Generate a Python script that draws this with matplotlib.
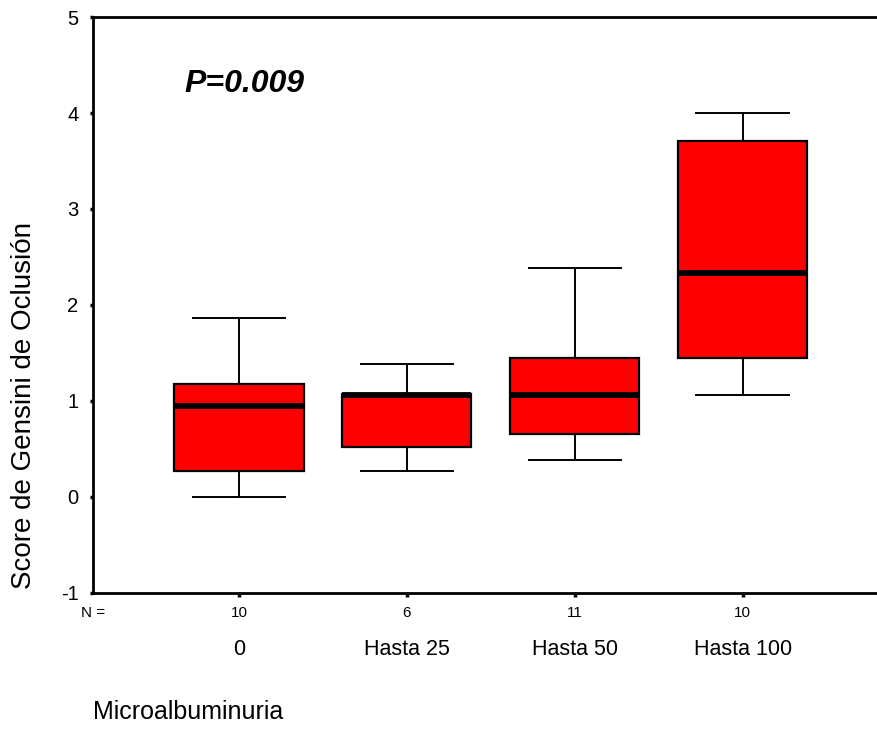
import matplotlib
matplotlib.use("Agg")
import matplotlib.pyplot as plt
import matplotlib.transforms as mtransforms

plt.rcParams['font.family'] = ['Liberation Sans', 'DejaVu Sans']
plt.rcParams['axes.unicode_minus'] = False

# Box plot values
groups = ['0', 'Hasta 25', 'Hasta 50', 'Hasta 100']
n_counts = [10, 6, 11, 10]
whisker_low = [0.0, 0.27, 0.39, 1.06]
q1 = [0.27, 0.52, 0.66, 1.45]
medians = [0.95, 1.06, 1.06, 2.33]
q3 = [1.18, 1.07, 1.45, 3.71]
whisker_high = [1.86, 1.39, 2.39, 4.0]

stats = []
for i in range(len(groups)):
    stats.append({'whislo': whisker_low[i], 'q1': q1[i], 'med': medians[i],
                  'q3': q3[i], 'whishi': whisker_high[i], 'fliers': [],
                  'label': groups[i]})

fig = plt.figure(figsize=(8.77, 7.3), dpi=100)
ax = fig.add_axes([0.106, 0.1877, 0.894, 0.789])

positions = list(range(1, len(groups) + 1))
ax.bxp(stats, positions=positions, widths=0.77, patch_artist=True,
       showfliers=False, capwidths=0.55,
       boxprops=dict(facecolor='#ff0000', edgecolor='black', linewidth=1.6),
       medianprops=dict(color='black', linewidth=4.2),
       whiskerprops=dict(color='black', linewidth=1.4),
       capprops=dict(color='black', linewidth=1.4))

ax.set_xlim(0.131, 4.80)
ax.set_ylim(-1, 5)
ax.set_yticks([-1, 0, 1, 2, 3, 4, 5])
ax.set_xticks(positions)
ax.set_xticklabels(groups, fontsize=15.5)

for s in ['left', 'top', 'bottom']:
    ax.spines[s].set_linewidth(2)
ax.spines['right'].set_visible(False)

ax.tick_params(axis='y', direction='out', length=2.5, width=2.5, labelsize=14.5, pad=8)
ax.tick_params(axis='x', direction='out', length=3, width=2.5, pad=30)

ax.set_ylabel('Score de Gensini de Oclusión', fontsize=20)
ax.yaxis.set_label_coords(-0.0875, 0.325)
ax.yaxis.label.set_va('center')

# N row under the axis
trans = mtransforms.blended_transform_factory(ax.transData, fig.transFigure)
ax.text(0.131, 1 - 613 / 730, 'N =', transform=trans, ha='center', va='center',
        fontsize=11)
for p, n in zip(positions, n_counts):
    ax.text(p, 1 - 613 / 730, str(n), transform=trans, ha='center', va='center',
            fontsize=11)

fig.text(93 / 877, 1 - 712 / 730, 'Microalbuminuria', fontsize=18,
         ha='left', va='center')

fig.text(184 / 877, 1 - 84 / 730, 'P=0.009', fontsize=23, fontweight='bold',
         fontstyle='italic', ha='left', va='center')

fig.savefig('out.png', dpi=100)
